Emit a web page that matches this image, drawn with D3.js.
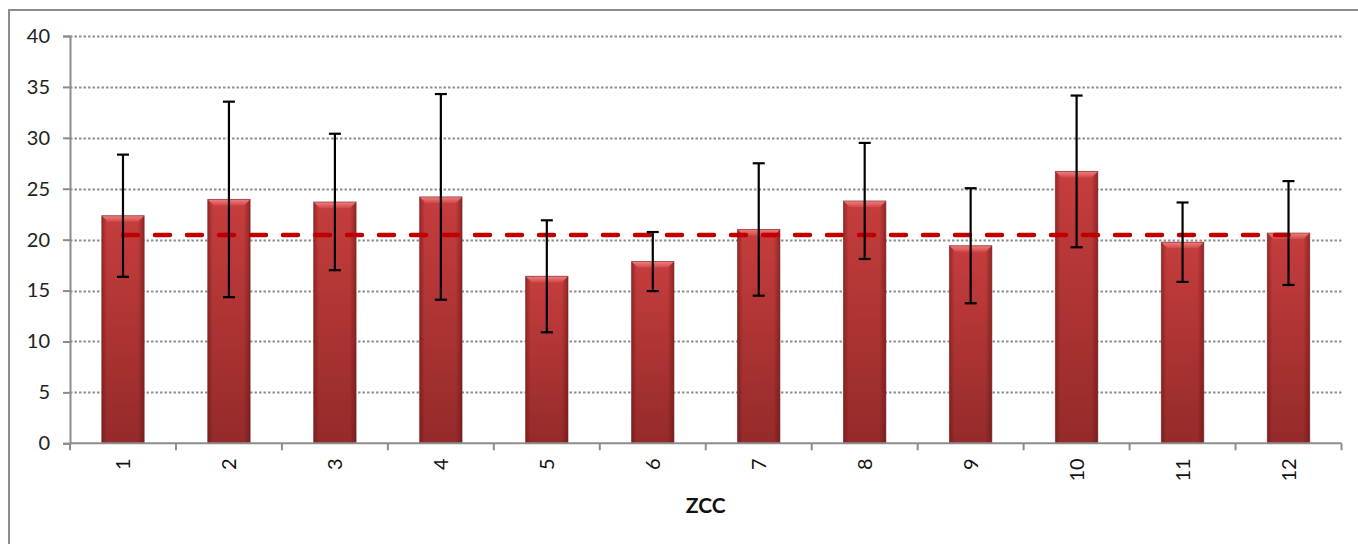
<!DOCTYPE html>
<html>
<head>
<meta charset="utf-8">
<script src="https://cdn.jsdelivr.net/npm/d3@7"></script>
<style>
  body { margin: 0; background: #fff; }
  svg { display: block; font-family: Lato, "Open Sans", "DejaVu Sans", sans-serif; }
</style>
</head>
<body>
<svg id="chart" width="1358" height="544"></svg>
<script>
const categories = ["1","2","3","4","5","6","7","8","9","10","11","12"];
const means  = [22.35, 23.95, 23.7, 24.2, 16.4, 17.85, 21.0, 23.8, 19.4, 26.7, 19.75, 20.65];
const errors = [6.0, 9.6, 6.7, 10.1, 5.5, 2.9, 6.5, 5.7, 5.65, 7.45, 3.9, 5.1];
const refLine = [20.45, 20.45, 20.45, 20.45, 20.45, 20.45, 20.45, 20.45, 20.45, 20.45, 20.45, 20.45];
const yTicks = [0, 5, 10, 15, 20, 25, 30, 35, 40];
const xTitle = "ZCC";

const svg = d3.select("#chart");
const margin = {left: 70, right: 1341.5, top: 36, bottom: 443.3};

// outer border
svg.append("rect").attr("x", 9).attr("y", 10).attr("width", 1400).attr("height", 600)
  .attr("fill", "none").attr("stroke", "#8c8c8c").attr("stroke-width", 2);

const x = d3.scaleBand().domain(categories).range([margin.left, margin.right]).paddingInner(0.6).paddingOuter(0.3);
const xb = d3.scaleBand().domain(categories).range([margin.left, margin.right]);
const y = d3.scaleLinear().domain([0, 40]).range([margin.bottom, margin.top]);

const defs = svg.append("defs");
const gv = defs.append("linearGradient").attr("id", "gv").attr("x1", 0).attr("y1", 0).attr("x2", 0).attr("y2", 1);
gv.append("stop").attr("offset", "0%").attr("stop-color", "#c63d3d");
gv.append("stop").attr("offset", "100%").attr("stop-color", "#952a2a");
const gh = defs.append("linearGradient").attr("id", "gh").attr("x1", 0).attr("y1", 0).attr("x2", 1).attr("y2", 0);
gh.append("stop").attr("offset", "0%").attr("stop-color", "#5a1010").attr("stop-opacity", 0.45);
gh.append("stop").attr("offset", "12%").attr("stop-color", "#5a1010").attr("stop-opacity", 0.0);
gh.append("stop").attr("offset", "85%").attr("stop-color", "#5a1010").attr("stop-opacity", 0.0);
gh.append("stop").attr("offset", "100%").attr("stop-color", "#5a1010").attr("stop-opacity", 0.5);
const gt = defs.append("linearGradient").attr("id", "gt").attr("x1", 0).attr("y1", 0).attr("x2", 0).attr("y2", 1);
gt.append("stop").attr("offset", "0%").attr("stop-color", "#f08080");
gt.append("stop").attr("offset", "100%").attr("stop-color", "#d24848");

// gridlines
svg.append("g").selectAll("line").data(yTicks.filter(d => d > 0)).join("line")
  .attr("x1", margin.left).attr("x2", margin.right)
  .attr("y1", d => Math.round(y(d)) + 0.5).attr("y2", d => Math.round(y(d)) + 0.5)
  .attr("stroke", "#8f8f8f").attr("stroke-width", 2).attr("stroke-dasharray", "2.5,2");

// y axis
const yAxis = svg.append("g").attr("transform", `translate(${margin.left},0)`)
  .call(d3.axisLeft(y).tickValues(yTicks).tickSize(7).tickPadding(13));
yAxis.select(".domain").attr("stroke", "#8c8c8c").attr("stroke-width", 2);
yAxis.selectAll(".tick line").attr("stroke", "#8c8c8c").attr("stroke-width", 2);
yAxis.selectAll(".tick text").attr("font-size", 20).attr("fill", "#222").attr("font-family", "Lato, sans-serif");

// bars
const bars = svg.append("g");
categories.forEach((c, i) => {
  const bx = x(c), bw = x.bandwidth(), by = y(means[i]), bh = y(0) - y(means[i]);
  bars.append("rect").attr("x", bx).attr("y", by).attr("width", bw).attr("height", bh)
    .attr("fill", "url(#gv)");
  bars.append("rect").attr("x", bx).attr("y", by).attr("width", bw).attr("height", bh)
    .attr("fill", "url(#gh)");
  const bev = 6;
  bars.append("path")
    .attr("d", `M${bx},${by} L${bx+bw},${by} L${bx+bw-bev},${by+bev} L${bx+bev},${by+bev} Z`)
    .attr("fill", "url(#gt)");
  bars.append("rect").attr("x", bx).attr("y", by).attr("width", bw).attr("height", bh)
    .attr("fill", "none").attr("stroke", "#7a2525").attr("stroke-width", 1).attr("stroke-opacity", 0.6);
});

// x axis
const xAxis = svg.append("g").attr("transform", `translate(0,${margin.bottom})`);
xAxis.append("line").attr("x1", margin.left).attr("x2", margin.right).attr("y1", 0).attr("y2", 0)
  .attr("stroke", "#8c8c8c").attr("stroke-width", 2);
const tickPos = categories.map(c => xb(c)).concat([margin.right]);
xAxis.selectAll("line.tk").data(tickPos).join("line").attr("class", "tk")
  .attr("x1", d => d).attr("x2", d => d).attr("y1", 0).attr("y2", 7)
  .attr("stroke", "#8c8c8c").attr("stroke-width", 2);
xAxis.selectAll("text").data(categories).join("text")
  .attr("transform", d => `translate(${xb(d) + xb.bandwidth()/2 + 7},15) rotate(-90)`)
  .attr("text-anchor", "end").attr("font-size", 20).attr("fill", "#111")
  .text(d => d);

// reference dashed line
const line = d3.line().x((d, i) => xb(categories[i]) + xb.bandwidth()/2).y(d => y(d));
svg.append("path").datum(refLine).attr("d", line)
  .attr("fill", "none").attr("stroke", "#c00000").attr("stroke-width", 4.5)
  .attr("stroke-dasharray", "15,17").attr("stroke-linecap", "round");

// error bars
const eg = svg.append("g").attr("stroke", "#000").attr("stroke-width", 2.2);
categories.forEach((c, i) => {
  const cx = xb(c) + xb.bandwidth()/2;
  const hi = y(means[i] + errors[i]), lo = y(means[i] - errors[i]);
  eg.append("line").attr("x1", cx).attr("x2", cx).attr("y1", hi).attr("y2", lo);
  eg.append("line").attr("x1", cx - 6).attr("x2", cx + 6).attr("y1", hi).attr("y2", hi);
  eg.append("line").attr("x1", cx - 6).attr("x2", cx + 6).attr("y1", lo).attr("y2", lo);
});

// x title
svg.append("text").attr("x", (margin.left + margin.right) / 2).attr("y", 513)
  .attr("text-anchor", "middle").attr("font-size", 21).attr("font-weight", "bold").attr("fill", "#111")
  .text(xTitle);
</script>
</body>
</html>
